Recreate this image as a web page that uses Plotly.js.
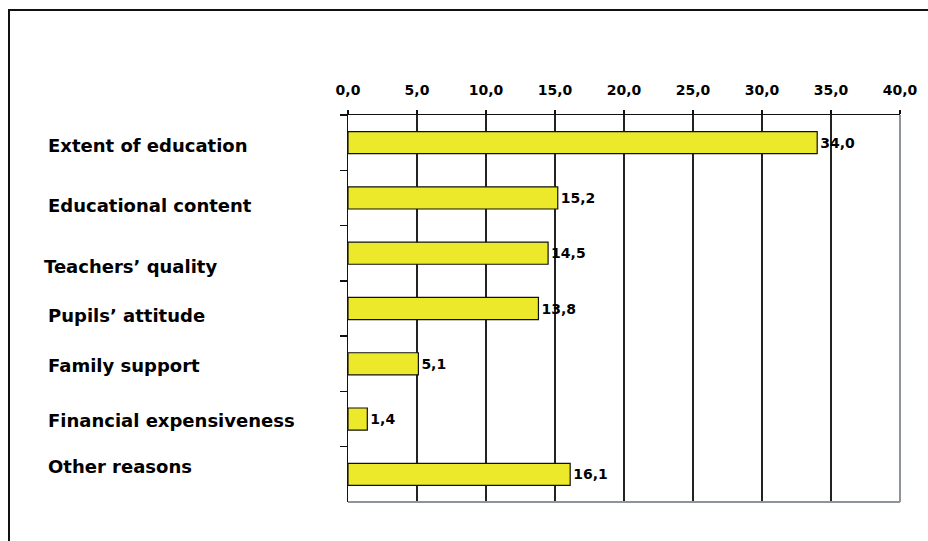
<!DOCTYPE html>
<html>
<head>
<meta charset="utf-8">
<script src="https://cdn.plot.ly/plotly-3.0.1.min.js"></script>
<style>
  html, body { margin: 0; padding: 0; background: #fff; }
  #wrap { position: relative; width: 928px; height: 541px; overflow: hidden; }
  #chart { position: absolute; left: 0; top: 0; width: 928px; height: 541px; }
  #frame { position: absolute; left: 8px; top: 9px; width: 960px; height: 600px;
           border-left: 2px solid #111; border-top: 2px solid #111; pointer-events: none; }
</style>
</head>
<body>
<div id="wrap">
  <div id="chart"></div>
  <div id="frame"></div>
</div>
<script>
// ---- data ----
const categories = [
  "Extent of education",
  "Educational content",
  "Teachers\u2019 quality",
  "Pupils\u2019 attitude",
  "Family support",
  "Financial expensiveness",
  "Other reasons"
];
const values = [34.0, 15.2, 14.5, 13.8, 5.1, 1.4, 16.1];
const xTicks = [0, 5, 10, 15, 20, 25, 30, 35, 40];

// ---- style / layout constants (label placement quirks of the original) ----
const labelYShift = [-3, -8, -13, -7, -2, -1, 8];
const labelXShift = [-2, -2, -6, -2, -2, -2, -2];

const FONT = "DejaVu Sans, Arial, sans-serif";

const trace = {
  type: "bar",
  orientation: "h",
  y: categories,
  x: values,
  width: 0.4,
  marker: { color: "#ECE82A", line: { color: "#111", width: 1.2 } },
  texttemplate: "%{x:.1f}",
  textposition: "outside",
  cliponaxis: false,
  textfont: { family: FONT, size: 14, color: "#000", weight: "bold" },
  hoverinfo: "skip"
};

const annotations = categories.map((c, i) => ({
  xref: "paper", yref: "y",
  x: -0.5435, y: c,
  xanchor: "left", yanchor: "middle",
  xshift: labelXShift[i], yshift: labelYShift[i],
  text: "<b>" + c + "</b>",
  showarrow: false,
  font: { family: FONT, size: 18, color: "#000" }
}));

const layout = {
  width: 928, height: 541,
  margin: { l: 348, r: 28, t: 115, b: 39 },
  paper_bgcolor: "#fff", plot_bgcolor: "#fff",
  separators: ", ",
  showlegend: false,
  xaxis: {
    side: "top",
    range: [0, 40],
    tickvals: xTicks,
    tickformat: ".1f",
    ticks: "outside", ticklen: 4, tickcolor: "#111", tickwidth: 1.5,
    ticklabelstandoff: 9,
    showgrid: true, gridcolor: "#222", gridwidth: 1.3,
    showline: true, linecolor: "#111", linewidth: 1.5,
    zeroline: false,
    tickfont: { family: FONT, size: 14, color: "#000", weight: "bold" },
    fixedrange: true
  },
  yaxis: {
    type: "category",
    autorange: "reversed",
    showticklabels: false,
    ticks: "outside", ticklen: 7, tickcolor: "#111", tickwidth: 1.3,
    tickson: "boundaries",
    showgrid: false,
    showline: true, linecolor: "#111", linewidth: 1.5,
    zeroline: false,
    fixedrange: true
  },
  shapes: [
    { type: "line", xref: "paper", yref: "paper", x0: 1, x1: 1, y0: 0, y1: 1,
      line: { color: "#8f949a", width: 2 }, layer: "above" },
    { type: "line", xref: "paper", yref: "paper", x0: 0, x1: 1, y0: 0, y1: 0,
      line: { color: "#8f949a", width: 2 }, layer: "above" }
  ],
  annotations: annotations
};

Plotly.newPlot("chart", [trace], layout, { staticPlot: true, displayModeBar: false });
</script>
</body>
</html>
